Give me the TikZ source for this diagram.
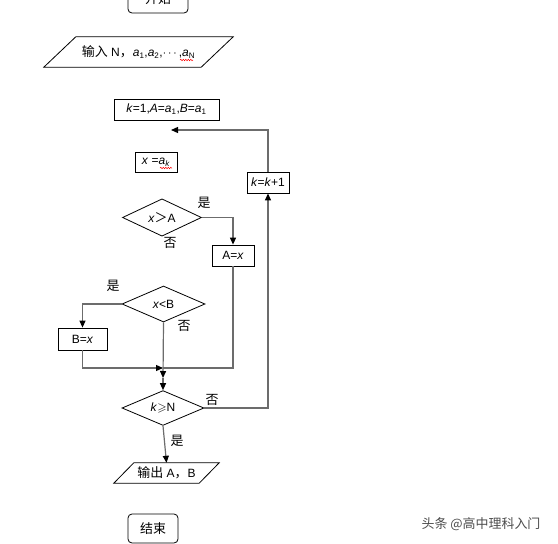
\documentclass[tikz,border=0pt]{standalone}
\usepackage{amsmath,amssymb}
\usepackage{fontspec}
\setmainfont{Liberation Sans}
\newfontfamily\cjk[Scale=1.08]{Noto Sans CJK SC}
\usetikzlibrary{shapes.geometric,arrows.meta,decorations.pathmorphing}

\begin{document}
\begin{tikzpicture}[x=1pt,y=-1pt,
    font=\fontsize{12}{14}\selectfont,
    box/.style={draw,line width=0.8pt,inner sep=0pt},
    term/.style={box,rounded corners=4pt},
    decision/.style={box,diamond},
    io/.style={inner sep=0pt,append after command={\pgfextra{\draw[line width=0.8pt]
        ([xshift=#1pt]\tikzlastnode.north west) -- (\tikzlastnode.north east)
        -- ([xshift=-#1pt]\tikzlastnode.south east) -- (\tikzlastnode.south west) -- cycle;}}},
    line/.style={draw=gray!85!black,line width=1.2pt},
    flow/.style={line,-{Triangle[color=black,length=7pt,width=6pt]}},
    lbl/.style={font=\cjk\fontsize{12}{14}\selectfont},
    wavy/.style={red,line width=0.5pt,decorate,decoration={snake,amplitude=0.7pt,segment length=2.5pt}}]
    \useasboundingbox (0,0) rectangle (558,544);

    % boxes of the flow
    \node[term,minimum width=60,minimum height=28] (start) at (158,-1) {{\cjk 开始}};
    \node[io=32,minimum width=189,minimum height=30] (input) at (138.5,52)
        {{\cjk 输入} N{\cjk ，}\textit{a}\textsubscript{1},\textit{a}\textsubscript{2},$\cdots$,\textit{a}\textsubscript{N}};
    \node[box,minimum width=105,minimum height=21] (init) at (166.5,109.5)
        {\textit{k}=1,\textit{A}=\textit{a}\textsubscript{1},\textit{B}=\textit{a}\textsubscript{1}};
    \node[box,minimum width=42,minimum height=20] (getx) at (156,162) {\textit{x} =\textit{a}\textsubscript{\textit{k}}};
    \node[box,minimum width=42,minimum height=21] (inck) at (268,182.5) {\textit{k}=\textit{k}+1};
    \node[decision,minimum width=79,minimum height=29] (cmpA) at (162,217.5) {\textit{x}{\cjk ＞}A};
    \node[box,minimum width=42,minimum height=21] (setA) at (233,255.5) {A=\textit{x}};
    \node[decision,minimum width=83,minimum height=36] (cmpB) at (163.5,304) {\textit{x}<B};
    \node[box,minimum width=49,minimum height=22] (setB) at (82.5,339) {B=\textit{x}};
    \node[decision,minimum width=82,minimum height=34] (test) at (163,408) {\textit{k}$\geqslant$N};
    \node[io=20,minimum width=105,minimum height=20] (output) at (166.5,473) {{\cjk 输出} A{\cjk ，}B};
    \node[term,minimum width=50,minimum height=29] (stop) at (153,528.5) {{\cjk 结束}};

    \coordinate (back) at (171,130);
    \coordinate (merge) at (163,368);
    \coordinate (below) at (163,378);

    % connectors
    \draw[flow] (inck.north) |- (back);
    \draw[flow] (cmpA.east) -| (setA.north);
    \draw[line] (setA.south) |- (merge);
    \draw[flow] (cmpB.west) -| (setB.north);
    \draw[flow] (setB.south) |- (merge);
    \draw[flow] (cmpB.south) -- (below);
    \draw[flow] (below) -- (test.north);
    \draw[flow] (test.east) -| (inck.south);
    \draw[flow] (test.south) -- (output.north);

    % yes / no
    \node[lbl] (yesA) at (204,203) {是};
    \node[lbl] (noA) at (170,243) {否};
    \node[lbl] (yesB) at (113,286) {是};
    \node[lbl] (noB) at (184,326) {否};
    \node[lbl] (noN) at (212,400) {否};
    \node[lbl] (yesN) at (177,441) {是};

    \draw[wavy] (180,60) -- (193,60);
    \draw[wavy] (160,168) -- (172,168);

    \node[lbl,text=gray!60!black] (mark) at (481,524) {头条 @高中理科入门};
\end{tikzpicture}
\end{document}
